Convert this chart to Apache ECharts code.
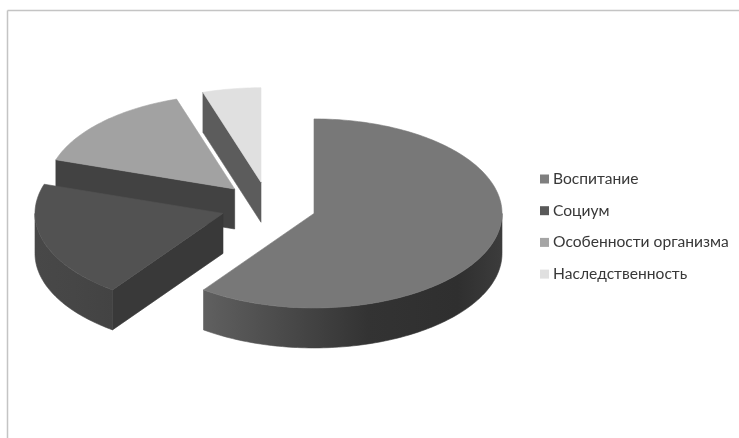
<!DOCTYPE html>
<html>
<head>
<meta charset="utf-8">
<style>html,body{margin:0;padding:0;background:#fff}#chart{width:739px;height:438px}</style>
<script src="https://cdn.jsdelivr.net/npm/echarts@6/dist/echarts.min.js"></script>
</head>
<body>
<div id="chart"></div>
<script>
// Shares of the pie, in percent
const categories = ['Воспитание', 'Социум', 'Особенности организма', 'Наследственность'];
const values = [60, 20, 15, 5];

// Appearance of each slice
const legendColors = ['#7f7f7f', '#595959', '#a5a5a5', '#e0e0e0'];
const topColors = ['#787878', '#525252', '#a2a2a2', '#e0e0e0'];
const cutColors = ['#3a3a3a', '#393939', '#424242', '#5c5c5c'];
const wallStops = [
  [[0, '#606060'], [0.55, '#333333'], [0.85, '#2f2f2f'], [1, '#3c3c3c']],
  [[0, '#484848'], [0.5, '#464646'], [1, '#434343']],
  [[0, '#555555'], [1, '#555555']],
  [[0, '#555555'], [1, '#555555']]
];

// Projection of the tilted disc
const centerX = 268.5, centerY = 206;
const radiusX = 188, radiusY = 94.5;
const depth = 40;
const explode = 0.2545;

const total = values.reduce((a, b) => a + b, 0);
const toRad = p => (p / total) * 2 * Math.PI;

function point(cx, cy, a, drop) {
  return [cx + radiusX * Math.sin(a), cy - radiusY * Math.cos(a) + (drop || 0)];
}

function arc(cx, cy, a0, a1, drop) {
  const n = Math.max(2, Math.ceil((a1 - a0) / 0.02));
  const pts = [];
  for (let i = 0; i <= n; i++) pts.push(point(cx, cy, a0 + (a1 - a0) * i / n, drop));
  return pts;
}

// A thin stroke in the fill colour closes the seams between adjoining faces
function poly(points, fill) {
  return { type: 'polygon', shape: { points }, style: { fill, stroke: fill, lineWidth: 0.6 }, silent: true };
}

function renderSlice(index) {
  return function (params, api) {
    const a0 = toRad(api.value(0));
    const a1 = toRad(api.value(1));
    const mid = (a0 + a1) / 2;
    const cx = centerX + explode * radiusX * Math.sin(mid);
    const cy = centerY - explode * radiusY * Math.cos(mid);
    const children = [];

    // Radial cut faces turned towards the viewer
    const face = a => {
      const r = point(cx, cy, a, 0);
      children.push(poly([[cx, cy], r, [r[0], r[1] + depth], [cx, cy + depth]], cutColors[index]));
    };
    if (Math.sin(a0) < -1e-6) face(a0);
    if (Math.sin(a1) > 1e-6) face(a1);

    // Outer wall: only the front half of the rim shows
    const w0 = Math.max(a0, Math.PI / 2);
    const w1 = Math.min(a1, Math.PI * 1.5);
    if (w1 > w0) {
      const upper = arc(cx, cy, w0, w1, 0);
      const lower = arc(cx, cy, w0, w1, depth).reverse();
      const stops = wallStops[index].map(s => ({ offset: s[0], color: s[1] }));
      children.push(poly(upper.concat(lower), new echarts.graphic.LinearGradient(0, 0, 1, 0, stops)));
    }

    // Top face
    children.push(poly([[cx, cy]].concat(arc(cx, cy, a0, a1, 0)), topColors[index]));
    return { type: 'group', children };
  };
}

let running = 0;
const spans = values.map(v => {
  const span = [running, running + v];
  running += v;
  return span;
});

// Later slices sit further back, so they are painted first
const series = categories.map((name, i) => ({
  name,
  type: 'custom',
  coordinateSystem: 'none',
  z: 10 - i,
  itemStyle: { color: legendColors[i] },
  renderItem: renderSlice(i),
  data: [spans[i]],
  animation: false
}));

const chart = echarts.init(document.getElementById('chart'));
chart.setOption({
  animation: false,
  backgroundColor: '#ffffff',
  legend: {
    orient: 'vertical',
    left: 540,
    top: 169,
    icon: 'rect',
    itemWidth: 9,
    itemHeight: 9,
    itemGap: 11.7,
    padding: 0,
    selectedMode: false,
    textStyle: { fontFamily: 'Lato, "Noto Sans", sans-serif', fontSize: 15.6, color: '#383838', lineHeight: 20, padding: [0, 0, 0, -1] },
    data: categories
  },
  graphic: [
    { type: 'line', silent: true, shape: { x1: 7.5, y1: 10.5, x2: 739, y2: 10.5 }, style: { stroke: '#c4c4c4', lineWidth: 1.5 } },
    { type: 'line', silent: true, shape: { x1: 7.5, y1: 10.5, x2: 7.5, y2: 438 }, style: { stroke: '#c4c4c4', lineWidth: 1.5 } }
  ],
  series
});
</script>
</body>
</html>
